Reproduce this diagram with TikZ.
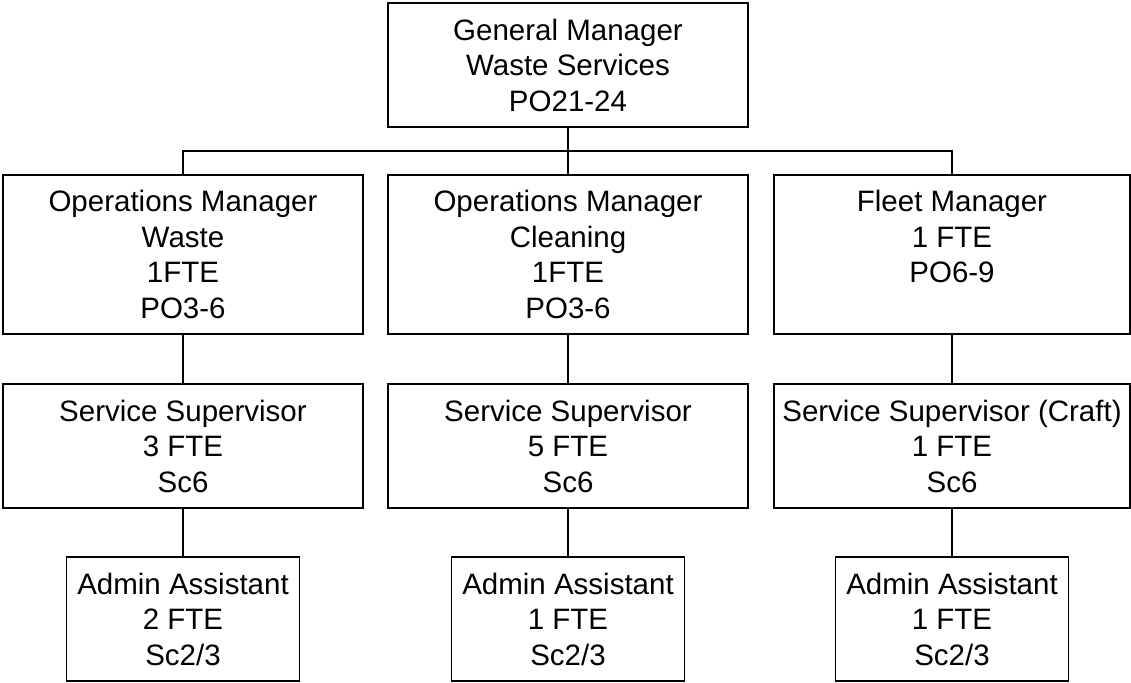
\documentclass[tikz,border=0pt]{standalone}
\usepackage{fontspec}
\setmainfont{Liberation Sans}
\usetikzlibrary{positioning}

\begin{document}
\begin{tikzpicture}[x=1pt, y=-1pt,
    post/.style={draw, rectangle, line width=1.6pt, inner sep=0pt, align=center,
        minimum width=360pt, minimum height=124pt, font=\fontsize{29.5}{35.5}\selectfont},
    head/.style={post, minimum height=159pt},
    staff/.style={post, minimum width=233pt},
    link/.style={line width=1.3pt}
]
    \useasboundingbox (0,0) rectangle (1131,682);

    \node[post] (gm) at (568,65) {General Manager\\Waste Services\\PO21-24};

    \node[head] (om1) at (183,254.5) {Operations Manager\\Waste\\1FTE\\PO3-6};
    \node[head] (om2) at (568,254.5) {Operations Manager\\Cleaning\\1FTE\\PO3-6};
    \node[head, minimum width=356pt] (fm) at (952,254.5) {Fleet Manager\\1 FTE\\PO6-9\\\vphantom{PO3-6}};

    \node[post] (ss1) at (183,446) {Service Supervisor\\3 FTE\\Sc6};
    \node[post] (ss2) at (568,446) {Service Supervisor\\5 FTE\\Sc6};
    \node[post, minimum width=356pt] (ss3) at (952,446) {Service Supervisor (Craft)\\1 FTE\\Sc6};

    \node[staff] (aa1) at (183,619) {Admin Assistant\\2 FTE\\Sc2/3};
    \node[staff] (aa2) at (568,619) {Admin Assistant\\1 FTE\\Sc2/3};
    \node[staff] (aa3) at (952,619) {Admin Assistant\\1 FTE\\Sc2/3};

    \coordinate (bus) at (568,151);

    \draw[link] (gm) -- (om2);
    \draw[link] (om1.north) |- (bus) -| (fm.north);
    \draw[link] (om1) -- (ss1);
    \draw[link] (om2) -- (ss2);
    \draw[link] (fm) -- (ss3);
    \draw[link] (ss1) -- (aa1);
    \draw[link] (ss2) -- (aa2);
    \draw[link] (ss3) -- (aa3);
\end{tikzpicture}
\end{document}
